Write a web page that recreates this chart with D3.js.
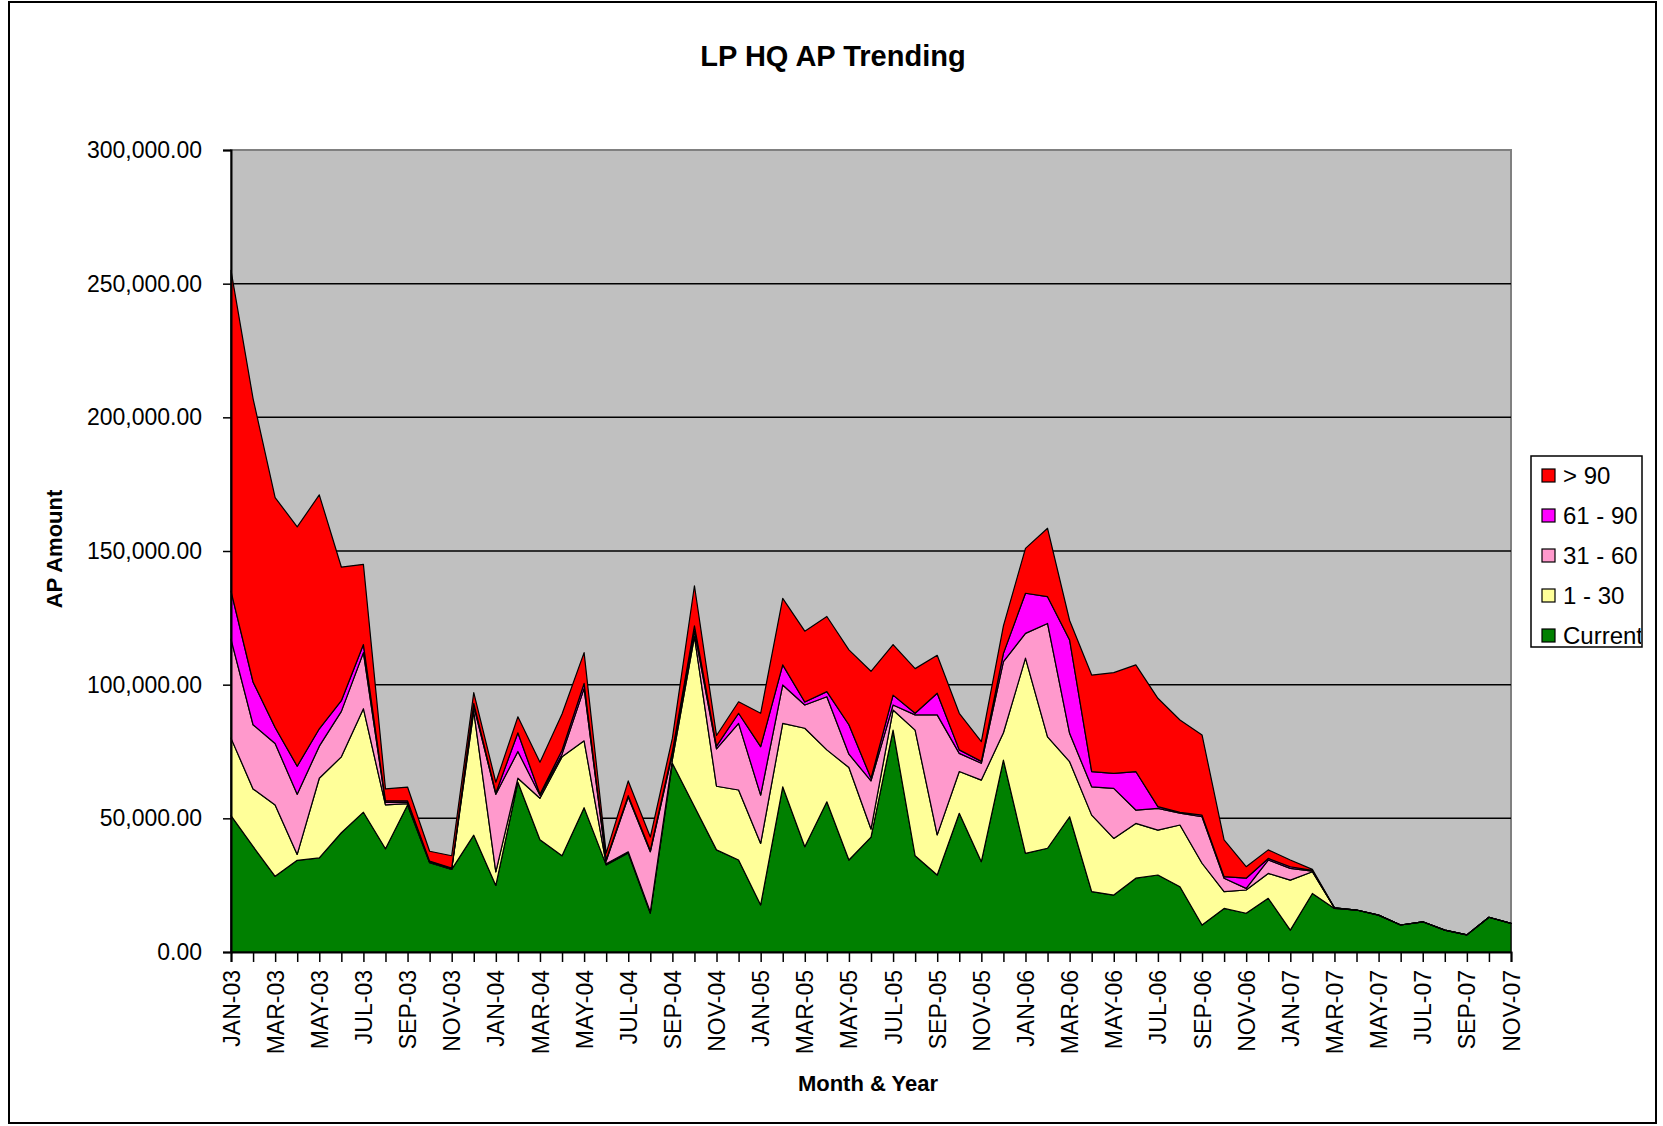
<!DOCTYPE html>
<html>
<head>
<meta charset="utf-8">
<script src="https://cdn.jsdelivr.net/npm/d3@7"></script>
<style>
  body { margin: 0; background: #fff; }
  text { font-family: "Liberation Sans", Arial, sans-serif; fill: #000; }
</style>
</head>
<body>
<svg id="chart" width="1663" height="1126"></svg>
<script>
var months = ["JAN-03","FEB-03","MAR-03","APR-03","MAY-03","JUN-03","JUL-03","AUG-03","SEP-03","OCT-03","NOV-03","DEC-03",
  "JAN-04","FEB-04","MAR-04","APR-04","MAY-04","JUN-04","JUL-04","AUG-04","SEP-04","OCT-04","NOV-04","DEC-04",
  "JAN-05","FEB-05","MAR-05","APR-05","MAY-05","JUN-05","JUL-05","AUG-05","SEP-05","OCT-05","NOV-05","DEC-05",
  "JAN-06","FEB-06","MAR-06","APR-06","MAY-06","JUN-06","JUL-06","AUG-06","SEP-06","OCT-06","NOV-06","DEC-06",
  "JAN-07","FEB-07","MAR-07","APR-07","MAY-07","JUN-07","JUL-07","AUG-07","SEP-07","OCT-07","NOV-07"];

var seriesNames = ["Current", "1 - 30", "31 - 60", "61 - 90", "> 90"];

var current = [51000, 39500, 28300, 34300, 35200, 44600, 52300, 38600, 55000, 33400, 30900, 43700,
  24900, 63500, 42000, 36000, 54000, 32600, 37000, 14500, 70600, 54400, 38200, 34400,
  17600, 61800, 39400, 56200, 34400, 43000, 83000, 36000, 28800, 51900, 33800, 71800,
  36900, 38800, 50600, 22600, 21300, 27600, 28800, 24400, 10100, 16300, 14500, 20100,
  8200, 21900, 16300, 15700, 13800, 10100, 11300, 8200, 6400, 13000, 10700];

var days1to30 = [29000, 21500, 26700, 2200, 29800, 28400, 38700, 16400, 500, 200, 100, 46300,
  5100, 1500, 15500, 37000, 25000, 400, 500, 500, 1400, 63600, 23800, 26200,
  23000, 23700, 44300, 19400, 34600, 3000, 7500, 47000, 15000, 15600, 30500, 10200,
  73000, 41700, 20600, 28600, 21200, 20500, 16800, 23100, 23100, 6300, 8700, 9300,
  18700, 8100, 200, 0, 0, 0, 0, 0, 0, 0, 0];

var days31to60 = [37000, 24000, 23000, 22500, 12000, 17000, 21000, 1000, 500, 200, 200, 2000,
  29000, 10000, 1100, 1000, 19600, 1000, 20500, 22500, 2000, 2000, 14000, 24900,
  18100, 14400, 8700, 19900, 5000, 18000, 1900, 5700, 44900, 6800, 6300, 26600,
  9300, 42400, 10600, 10600, 18700, 5000, 8100, 4400, 17400, 5000, 600, 5000,
  4400, 200, 0, 0, 0, 0, 0, 0, 0, 0, 0];

var days61to90 = [18000, 16000, 6000, 10500, 6500, 4000, 3000, 500, 500, 200, 200, 1000,
  500, 7000, 400, 1500, 1900, 500, 500, 500, 1000, 2000, 1000, 3800,
  18100, 7500, 1100, 1900, 11000, 1000, 3700, 600, 8100, 1300, 700, 3100,
  15000, 10000, 34900, 5700, 5600, 14400, 700, 300, 600, 600, 3800, 600,
  600, 300, 0, 0, 0, 0, 0, 0, 0, 0, 0];

var over90 = [120000, 106000, 86000, 89500, 87500, 50000, 30000, 4500, 5200, 3700, 4600, 4000,
  4000, 6000, 12000, 13500, 11500, 2500, 5500, 5000, 5000, 15000, 4000, 4300,
  12500, 24900, 26500, 28100, 28000, 40000, 18900, 16700, 14200, 13700, 7400, 10300,
  16800, 25600, 7300, 36100, 37700, 39900, 40500, 34600, 30000, 13700, 4300, 3200,
  2500, 400, 0, 0, 0, 0, 0, 0, 0, 0, 0];

var yTicks = [0, 50000, 100000, 150000, 200000, 250000, 300000];

var colors = {"Current": "#008000", "1 - 30": "#FFFF99", "31 - 60": "#FF99CC", "61 - 90": "#FF00FF", "> 90": "#FF0000"};

var table = months.map(function(m, i) {
  return {month: m, "Current": current[i], "1 - 30": days1to30[i], "31 - 60": days31to60[i],
    "61 - 90": days61to90[i], "> 90": over90[i]};
});

var svg = d3.select("#chart");
var plot = {left: 231, right: 1511, top: 150, bottom: 952};

// outer frame
svg.append("rect")
  .attr("x", 9).attr("y", 2).attr("width", 1647).attr("height", 1121)
  .attr("fill", "#fff").attr("stroke", "#000").attr("stroke-width", 2);

var x = d3.scalePoint().domain(months).range([plot.left, plot.right]);
var y = d3.scaleLinear().domain([0, 300000]).range([plot.bottom, plot.top]);

// plot area
svg.append("rect")
  .attr("x", plot.left).attr("y", plot.top)
  .attr("width", plot.right - plot.left).attr("height", plot.bottom - plot.top)
  .attr("fill", "#C0C0C0").attr("stroke", "#808080").attr("stroke-width", 2);

// gridlines
svg.append("g").selectAll("line")
  .data(yTicks.filter(function(t) { return t > 0 && t < 300000; }))
  .enter().append("line")
  .attr("x1", plot.left).attr("x2", plot.right)
  .attr("y1", function(d) { return y(d); }).attr("y2", function(d) { return y(d); })
  .attr("stroke", "#000").attr("stroke-width", 1.5);

var stack = d3.stack().keys(seriesNames);
var layers = stack(table);

var area = d3.area()
  .x(function(d) { return x(d.data.month); })
  .y0(function(d) { return y(d[0]); })
  .y1(function(d) { return y(d[1]); });

svg.append("g").selectAll("path")
  .data(layers)
  .enter().append("path")
  .attr("d", area)
  .attr("fill", function(d) { return colors[d.key]; })
  .attr("stroke", "#000")
  .attr("stroke-width", 1.2)
  .attr("stroke-linejoin", "round");

// y axis
var yAxis = d3.axisLeft(y).tickValues(yTicks).tickFormat(d3.format(",.2f")).tickSizeOuter(0).tickSize(8).tickPadding(21);
var gy = svg.append("g").attr("transform", "translate(" + plot.left + ",0)").call(yAxis);
gy.select(".domain").attr("stroke", "#000").attr("stroke-width", 2);
gy.selectAll(".tick line").attr("stroke", "#000").attr("stroke-width", 1.5);
gy.selectAll("text").style("font-size", "23px").attr("fill", "#000");

// x axis, a label on every second month
var xAxis = d3.axisBottom(x)
  .tickFormat(function(d, i) { return i % 2 == 0 ? d : ""; })
  .tickSizeOuter(0).tickSize(10);
var gx = svg.append("g").attr("transform", "translate(0," + plot.bottom + ")").call(xAxis);
gx.select(".domain").attr("stroke", "#000").attr("stroke-width", 2);
gx.selectAll(".tick line").attr("stroke", "#000").attr("stroke-width", 1.5);
gx.selectAll("text")
  .style("font-size", "23px")
  .attr("fill", "#000")
  .attr("text-anchor", "end")
  .attr("dy", "0.35em")
  .attr("transform", "translate(0,18) rotate(-90)")
  .attr("x", 0).attr("y", 0);

// titles
svg.append("text")
  .attr("x", 833).attr("y", 66)
  .attr("text-anchor", "middle")
  .style("font-size", "29px").style("font-weight", "bold")
  .text("LP HQ AP Trending");

svg.append("text")
  .attr("x", 868).attr("y", 1091)
  .attr("text-anchor", "middle")
  .style("font-size", "22px").style("font-weight", "bold")
  .text("Month & Year");

svg.append("text")
  .attr("transform", "translate(62,549) rotate(-90)")
  .attr("text-anchor", "middle")
  .style("font-size", "22px").style("font-weight", "bold")
  .text("AP Amount");

// legend (text is clipped by the box, like the original)
var legendNames = seriesNames.slice().reverse();
svg.append("clipPath").attr("id", "legend-clip")
  .append("rect").attr("x", 1531).attr("y", 456).attr("width", 110).attr("height", 191);

var legend = svg.append("g");
legend.append("rect")
  .attr("x", 1531).attr("y", 456).attr("width", 111).attr("height", 191)
  .attr("fill", "#fff").attr("stroke", "#000").attr("stroke-width", 1.5);

var items = legend.append("g").attr("clip-path", "url(#legend-clip)")
  .selectAll("g").data(legendNames).enter().append("g")
  .attr("transform", function(d, i) { return "translate(0," + (476 + i * 40) + ")"; });

items.append("rect")
  .attr("x", 1542).attr("y", -7).attr("width", 13).attr("height", 13)
  .attr("fill", function(d) { return colors[d]; })
  .attr("stroke", "#000").attr("stroke-width", 1.2);

items.append("text")
  .attr("x", 1563).attr("y", 8)
  .style("font-size", "24px")
  .text(function(d) { return d; });
</script>
</body>
</html>
